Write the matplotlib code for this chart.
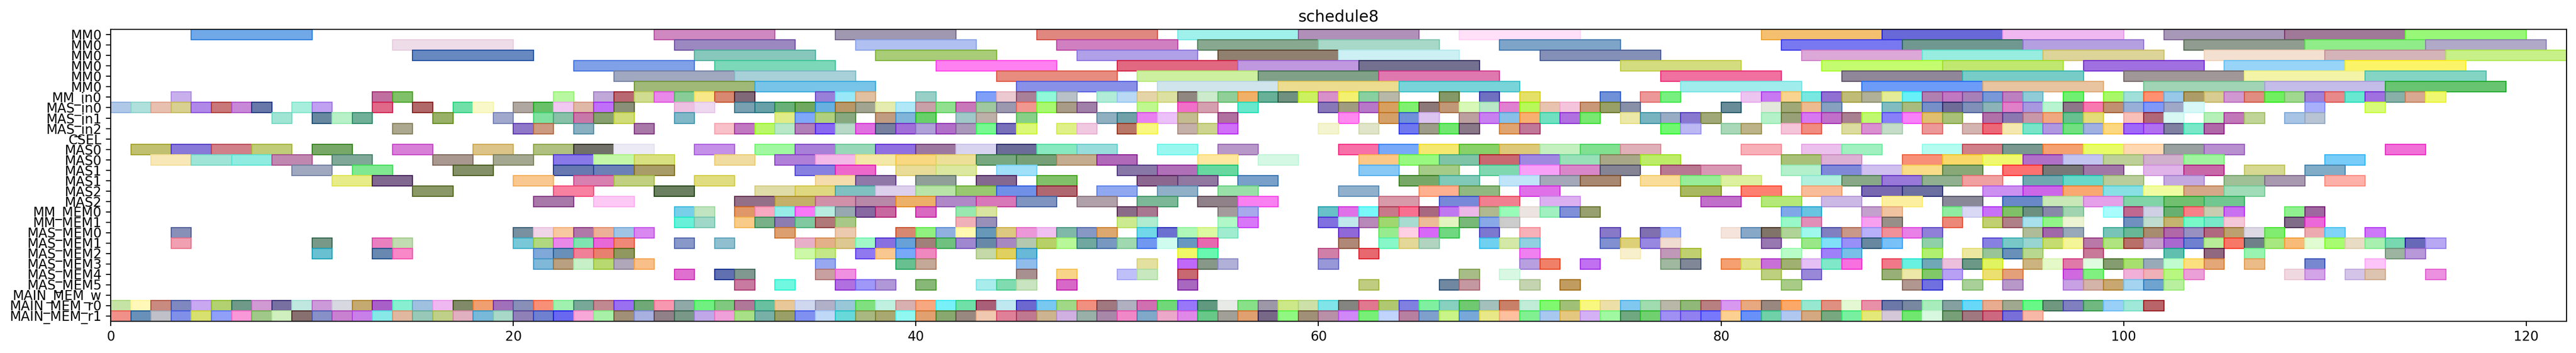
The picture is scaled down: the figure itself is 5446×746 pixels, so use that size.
import numpy as np
from matplotlib import pyplot as plt
from matplotlib.colors import to_rgb

# row labels, top to bottom
labels = ['MM0', 'MM0', 'MM0', 'MM0', 'MM0', 'MM0', 'MM_in0', 'MAS_in0', 'MAS_in1', 'MAS_in2',
          'CSEL', 'MAS0', 'MAS0', 'MAS1', 'MAS1', 'MAS2', 'MAS2', 'MM_MEM0', 'MM_MEM1',
          'MAS_MEM0', 'MAS_MEM1', 'MAS_MEM2', 'MAS_MEM3', 'MAS_MEM4', 'MAS_MEM5',
          'MAIN_MEM_w', 'MAIN_MEM_r0', 'MAIN_MEM_r1']

# task duration per row
durations = [6, 6, 6, 6, 6, 6, 1, 1, 1, 1, 1, 2, 2, 2, 2, 2, 2, 1, 1, 1, 1, 1, 1, 1, 1, 1, 1, 1]

# (start, colour) for each task
mm0_a = [(4,'#70a8e8'),(27,'#d088c0'),(36,'#a098b0'),(46,'#e08880'),(53,'#a0f0ec'),(59,'#b090b8'),
         (67,'#ffe0f8'),(82,'#f4c070'),(88,'#6868d8'),(94,'#f0b8f0'),(102,'#a898b8'),(108,'#a07898'),(114,'#98f878')]
mm0_b = [(14,'#eedce8'),(28,'#9c88c0'),(37,'#b0c0f0'),(47,'#d080c0'),(54,'#88a890'),(60,'#a8d8c8'),
         (69,'#7ea4c8'),(83,'#7878f0'),(89,'#709890'),(95,'#b4a0e0'),(103,'#909c90'),(109,'#90ec88'),(115,'#b0aac8')]
mm0_c = [(15,'#6888c0'),(29,'#88c8bc'),(38,'#a8cc78'),(48,'#b0a0e8'),(55,'#908070'),(61,'#ccf0f4'),
         (71,'#8490b8'),(84,'#dca8d8'),(90,'#98ece0'),(96,'#dcd498'),(104,'#f4e0d0'),(110,'#d4b4b8'),(116,'#c8f088')]
mm0_d = [(23,'#80a0e8'),(30,'#7cd8b8'),(41,'#ff80f0'),(50,'#e06880'),(56,'#c098e0'),(62,'#747090'),
         (75,'#d4dc80'),(85,'#c4fc70'),(91,'#c0e870'),(98,'#a070e0'),(105,'#98d4f8'),(111,'#fcf468')]
mm0_e = [(25,'#a0a8c0'),(31,'#a8d0d8'),(44,'#e88c80'),(51,'#ccf0a0'),(57,'#80a088'),(63,'#e078b0'),
         (77,'#f070a0'),(86,'#908898'),(92,'#78ccc8'),(100,'#a09898'),(106,'#f4f4a8'),(112,'#84d4c4')]
mm0_f = [(26,'#a0b878'),(32,'#78c4e8'),(45,'#8890e8'),(52,'#d0e4ec'),(58,'#ecdc90'),(64,'#78d4d8'),
         (78,'#a0ecec'),(87,'#6c9cf8'),(93,'#e8c4a0'),(101,'#a0d4b4'),(107,'#c4bce8'),(113,'#68c470')]

mm_in0 = [(3,'#c8b0ec'),(13,'#c070a0'),(14,'#80c068'),(22,'#b8f8a0'),(24,'#c0a8d8'),(25,'#b86870'),
          (26,'#d0dc90'),(27,'#e888e8'),(28,'#88cc98'),(29,'#f8e888'),(30,'#d88870'),(31,'#806878'),
          (35,'#9880d8'),(36,'#98e8f8'),(37,'#e0c0a0'),(40,'#98d0c8'),(43,'#80a0f8'),(44,'#ecc8d0'),
          (45,'#a88098'),(46,'#90f8d8'),(47,'#b8c0c8'),(49,'#b0ecd8'),(50,'#b8d8f4'),(51,'#e4d4a8'),
          (52,'#dce0a0'),(53,'#908880'),(54,'#cceacc'),(55,'#90d098'),(56,'#f0b068'),(57,'#68b098'),
          (58,'#709080'),(59,'#ccf060'),(60,'#d890c8'),(61,'#f4f070'),(62,'#88d0a0'),(63,'#b8b8a8'),
          (66,'#849868'),(68,'#7070c0'),(70,'#e4e068'),(74,'#7090d8'),(76,'#ec9898'),(77,'#78f080'),
          (81,'#ecc4f0'),(82,'#c878f0'),(83,'#f8d490'),(84,'#78e8e0'),(85,'#9070d0'),(86,'#c0bc78'),
          (87,'#b0b098'),(88,'#e4ec98'),(89,'#68f0f8'),(90,'#b080b0'),(91,'#c078c0'),(92,'#a880b8'),
          (93,'#7898d8'),(94,'#bc80c0'),(95,'#90ccd8'),(97,'#70f070'),(99,'#a8f868'),(100,'#a0e0d8'),
          (101,'#ff9070'),(102,'#98c8e8'),(103,'#ac9c68'),(104,'#d8cc90'),(105,'#d098d0'),(106,'#e08c80'),
          (107,'#70f060'),(108,'#a0d890'),(109,'#a080d8'),(110,'#e88888'),(111,'#68e8d0'),(112,'#a070e0'),
          (113,'#88b0a8'),(114,'#d8a890'),(115,'#f0f870')]

mas_in0 = [(0,'#b0c8e8'),(1,'#b0e0dc'),(2,'#e8c0b0'),(3,'#d8d090'),(4,'#b088e8'),(5,'#c87878'),
           (6,'#c888d8'),(7,'#6878a8'),(9,'#a8eedc'),(10,'#c0a0f0'),(13,'#e06888'),(15,'#b06868'),
           (17,'#70e0a8'),(18,'#f8f8c8'),(20,'#b0a8a0'),(21,'#68c068'),(22,'#f0c8f0'),(23,'#e0b8a8'),
           (24,'#c070f8'),(25,'#8a9078'),(28,'#ecc0e0'),(29,'#eed8f0'),(31,'#78a0b0'),(32,'#68a0a8'),
           (33,'#68b078'),(34,'#70a860'),(35,'#68b0e0'),(36,'#b89868'),(37,'#a0a490'),(38,'#e4ecb0'),
           (39,'#b0e8f8'),(40,'#c8a0a8'),(41,'#90e090'),(42,'#c878b8'),(43,'#a0c8a0'),(44,'#9c98b0'),
           (45,'#f09890'),(46,'#a8f870'),(47,'#a89c88'),(48,'#a080a8'),(51,'#c0f890'),(53,'#f070c8'),
           (54,'#d4a0b0'),(56,'#68e8cc'),(60,'#8878b8'),(61,'#a09c80'),(62,'#b878c8'),(63,'#d8a060'),
           (64,'#80f070'),(65,'#8c7878'),(66,'#c09878'),(67,'#d8f8b8'),(68,'#b8e8c8'),(69,'#e080d0'),
           (70,'#b8f858'),(71,'#e8c4b0'),(72,'#f4c4dc'),(73,'#c89878'),(74,'#98a068'),(75,'#8890a8'),
           (80,'#688c98'),(82,'#e4e8dc'),(83,'#a0a878'),(84,'#ecbc90'),(85,'#88a0c0'),(88,'#80bcc0'),
           (89,'#a8bc80'),(90,'#7890c8'),(91,'#706c98'),(92,'#8090b8'),(93,'#8cb4b8'),(94,'#e080c8'),
           (95,'#a898e0'),(96,'#b8f4d0'),(97,'#8c7888'),(98,'#f878b0'),(99,'#c09070'),(100,'#98b0d8'),
           (101,'#8098f8'),(102,'#a0a8c8'),(103,'#d8f8f8'),(109,'#a8b0fc'),(112,'#d8fc78')]

mas_in1 = [(8,'#a0e4d4'),(10,'#6888a0'),(11,'#b8f0c8'),(12,'#70b098'),(16,'#98b068'),(19,'#a0a8cc'),
           (21,'#80e0a0'),(22,'#88c0a8'),(23,'#c878a8'),(24,'#88a070'),(25,'#d0dc78'),(28,'#80b8c8'),
           (33,'#e0ec88'),(34,'#80a8f8'),(35,'#b0d080'),(36,'#88a880'),(38,'#c09c80'),(39,'#80b4d8'),
           (40,'#68d068'),(42,'#a0c8c8'),(43,'#bcb0a8'),(45,'#88d088'),(49,'#90b0c0'),(50,'#70a0a8'),
           (51,'#e880f0'),(52,'#ecc0f8'),(53,'#c4bc90'),(55,'#b070a0'),(61,'#ff88f0'),(63,'#d4a068'),
           (64,'#7090d8'),(65,'#dcc4f0'),(67,'#bca0a0'),(68,'#c880f0'),(69,'#88c0e8'),(70,'#f8b070'),
           (71,'#70e0c0'),(72,'#b070e0'),(73,'#78e870'),(75,'#ece8a8'),(76,'#78b4c0'),(77,'#98acc4'),
           (78,'#8878d0'),(79,'#a0a878'),(82,'#b4f0c8'),(83,'#98a078'),(84,'#d878f0'),(85,'#c070c8'),
           (86,'#a88090'),(87,'#c0f870'),(88,'#8880f8'),(89,'#f880f8'),(90,'#e0c070'),(91,'#a8c078'),
           (93,'#b070a8'),(94,'#8c78b0'),(95,'#c898a8'),(96,'#f0a880'),(97,'#68c090'),(98,'#e4dc78'),
           (100,'#f8c0b8'),(101,'#b06878'),(102,'#d8f8f4'),(104,'#b4f0b8'),(105,'#c078b8'),(106,'#c0d498'),
           (108,'#a8c4e4'),(109,'#b8c4d4')]

mas_in2 = [(14,'#aca890'),(20,'#9078c8'),(21,'#cc9a80'),(23,'#88b0c0'),(26,'#a878a8'),(30,'#f8c0c8'),
           (31,'#c078c0'),(32,'#b8f868'),(33,'#b8e8c8'),(34,'#b080b8'),(35,'#8868f0'),(36,'#b8d8c8'),
           (37,'#e070e0'),(38,'#7880a0'),(39,'#a070d8'),(40,'#b0a0d8'),(41,'#b070c8'),(42,'#aa98bb'),
           (43,'#78f890'),(44,'#7870b8'),(45,'#dcf878'),(47,'#e0f088'),(48,'#f0c8e0'),(50,'#b87868'),
           (51,'#f8f880'),(53,'#c4b0a8'),(54,'#ccd490'),(55,'#d070f8'),(60,'#f4f4d0'),(62,'#e0e4c8'),
           (64,'#7078f0'),(65,'#9c9c88'),(66,'#70e870'),(67,'#887888'),(69,'#e0a470'),(70,'#c07898'),
           (77,'#70f870'),(78,'#bcb8f4'),(80,'#a8d8b8'),(81,'#bcb488'),(83,'#f4c4d8'),(84,'#f08c80'),
           (86,'#dcdca0'),(87,'#d890d0'),(88,'#c4dcc8'),(90,'#ec9898'),(92,'#d4b4b0'),(93,'#ec6878'),
           (94,'#f4e8b0'),(95,'#78e4c8'),(96,'#b098e0'),(97,'#70e080'),(98,'#a0b0e0'),(99,'#fcd880'),
           (100,'#a068f8'),(101,'#b070f0'),(102,'#8080a0'),(103,'#78e8c8'),(104,'#b068a8')]

csel = []

mas0_a = [(1,'#c0c070'),(3,'#8878d8'),(5,'#d08088'),(7,'#c0cc78'),(10,'#78a868'),(14,'#d880d8'),
          (18,'#dcc488'),(21,'#b0c080'),(23,'#707068'),(25,'#eceaf4'),(29,'#c490e8'),(32,'#a0f8a0'),
          (34,'#a880d8'),(36,'#98d8b8'),(38,'#9070e0'),(40,'#9c78a0'),(42,'#d8d4f0'),(44,'#6c6c98'),
          (46,'#88e8c0'),(48,'#98dcdc'),(52,'#98f8f0'),(55,'#b898c8'),(61,'#f870a8'),(63,'#78a8f8'),
          (65,'#f4e870'),(67,'#88d068'),(69,'#dcc878'),(71,'#c4f0c0'),(73,'#80e090'),(75,'#e0b0b8'),
          (81,'#f8b0b8'),(84,'#ecc0ec'),(86,'#a0f0c0'),(90,'#b4fcf0'),(92,'#d08088'),(94,'#789890'),
          (96,'#f4a070'),(98,'#e8fc68'),(100,'#fed8b0'),(102,'#98a0a0'),(104,'#b890d0'),(113,'#f070d8')]
mas0_b = [(2,'#f8e8b8'),(4,'#a0e4d8'),(6,'#90ece0'),(8,'#c088b0'),(11,'#80a898'),(16,'#a89890'),
          (19,'#a4a890'),(22,'#8878e8'),(24,'#c4f8a8'),(26,'#d8e080'),(30,'#f0dca0'),(33,'#b080d8'),
          (35,'#f4b8e8'),(37,'#f4e8a8'),(39,'#f8d880'),(41,'#ece098'),(43,'#78a880'),(45,'#78a078'),
          (47,'#c4ac90'),(49,'#b068b8'),(54,'#fee8a0'),(57,'#d4f8e4'),(62,'#fcc888'),(64,'#98f880'),
          (66,'#80c4a8'),(68,'#c86870'),(70,'#a088e0'),(72,'#98e0b8'),(74,'#a8a888'),(76,'#bcec68'),
          (83,'#a8c078'),(85,'#dcb0d4'),(89,'#f89078'),(91,'#f8d868'),(93,'#f0f870'),(95,'#b070c8'),
          (97,'#c4c4f0'),(99,'#bcd098'),(101,'#d0b0cc'),(103,'#a0f4a0'),(110,'#78ccf8')]
mas1_a = [(9,'#a0a8c0'),(12,'#80e890'),(17,'#849068'),(22,'#6878b0'),(24,'#6c80b8'),(26,'#a89c68'),
          (34,'#8880e0'),(36,'#ee68cc'),(39,'#e8dc98'),(41,'#dce8a0'),(44,'#a0e0f8'),(50,'#8878a8'),
          (52,'#b070b8'),(54,'#68d8a0'),(62,'#88c8f4'),(65,'#a4cc88'),(68,'#80d8b0'),(70,'#f8a0f8'),
          (72,'#d888c8'),(74,'#848494'),(77,'#b87890'),(79,'#d898b4'),(83,'#b4f0cc'),(85,'#8088d8'),
          (87,'#d0c0f0'),(89,'#f8dc88'),(91,'#88a878'),(94,'#ff7070'),(96,'#787878'),(98,'#a078a8'),
          (101,'#e0b4e8'),(103,'#c868a8'),(106,'#d4d890'),(109,'#80acc8')]
mas1_b = [(11,'#e8ec88'),(13,'#806890'),(20,'#f8c890'),(23,'#d880b0'),(25,'#c0d080'),(29,'#e0dc80'),
          (35,'#f4dcac'),(37,'#9078a8'),(40,'#90a098'),(43,'#846890'),(46,'#80c068'),(51,'#8c6890'),
          (53,'#9078a0'),(56,'#78a0c8'),(64,'#78a868'),(66,'#80c8b8'),(69,'#c0e4f8'),(71,'#a4a8b8'),
          (73,'#a88870'),(76,'#f8dc98'),(78,'#98ec98'),(80,'#dcf0a0'),(84,'#b0f0dc'),(86,'#88a888'),
          (88,'#9878d8'),(90,'#90b090'),(92,'#f0a0a0'),(95,'#70a8b0'),(97,'#68d8c8'),(99,'#b8cc9c'),
          (102,'#c4a8e0'),(105,'#a0c098'),(107,'#a898b0'),(110,'#fcb0a8')]
mas2_a = [(15,'#8a9868'),(22,'#f880a0'),(27,'#6a8060'),(32,'#e0dca8'),(34,'#e0d880'),(36,'#80c0c0'),
          (38,'#dcd0ec'),(40,'#b8e4a8'),(42,'#98c870'),(44,'#7090e8'),(46,'#b06870'),(49,'#90a8f0'),
          (52,'#90b0c8'),(55,'#98e0a8'),(61,'#90b0cc'),(65,'#ffb090'),(67,'#90b880'),(70,'#e070e8'),
          (78,'#a8b860'),(81,'#ff8070'),(84,'#f8bc98'),(87,'#7868b0'),(89,'#6c70a0'),(93,'#cc90f0'),
          (95,'#cc68e8'),(97,'#f8a870'),(99,'#88e0e4'),(101,'#f0fca0'),(103,'#d4a888'),(105,'#a0dcb8')]
mas2_b = [(21,'#a878a8'),(24,'#fcc8f4'),(31,'#947088'),(33,'#c4b068'),(35,'#d090a8'),(37,'#b888a8'),
          (39,'#ecb068'),(41,'#b088c8'),(43,'#d878b8'),(45,'#8094c0'),(48,'#b0a0a8'),(51,'#7cb898'),
          (54,'#908088'),(56,'#f880f0'),(63,'#d89aa8'),(66,'#7888d8'),(68,'#f08090'),(71,'#dcb0f0'),
          (79,'#c070c8'),(82,'#b4e878'),(85,'#ccb8e4'),(88,'#fcf0a0'),(91,'#888898'),(94,'#6888c8'),
          (96,'#c8e8b8'),(98,'#e4a0e8'),(100,'#80d4a8'),(102,'#70c070'),(104,'#70c890')]

mm_mem0 = [(28,'#78d0e8'),(29,'#c0e4c0'),(31,'#e09868'),(32,'#f8a8c0'),(33,'#98ece8'),(34,'#f878f8'),
           (35,'#b8ece0'),(36,'#98a8b0'),(37,'#8868a0'),(38,'#c868a0'),(40,'#d868c0'),(42,'#98e8b0'),
           (43,'#d8e4a0'),(50,'#8a6c88'),(51,'#a87890'),(55,'#a49c9c'),(56,'#a8a8ec'),(60,'#68c0c8'),
           (61,'#e070e8'),(62,'#78f8f8'),(63,'#c87888'),(64,'#f87090'),(65,'#a86880'),(66,'#c078f0'),
           (67,'#ecb8e8'),(68,'#b0b890'),(69,'#98fcb8'),(70,'#ece4e0'),(71,'#a0f0c0'),(72,'#8090d8'),
           (73,'#98a070'),(83,'#80a8e8'),(84,'#68c4e0'),(87,'#c4a0cc'),(88,'#f0c4a0'),(91,'#90eca0'),
           (92,'#d8d8f4'),(93,'#c870f8'),(94,'#80c068'),(95,'#6c9080'),(96,'#8888a8'),(97,'#a0d4b0'),
           (99,'#a8fcfc'),(100,'#c06890'),(101,'#d0d0e4'),(102,'#68b070'),(103,'#f88088'),(104,'#c8ccb0'),
           (105,'#c870f0'),(108,'#90f090'),(109,'#a068a0')]
mm_mem1 = [(28,'#68f0d8'),(29,'#a0d8c8'),(31,'#f8cc88'),(32,'#78b088'),(33,'#8c7cb0'),(34,'#80c8a0'),
           (35,'#b07878'),(36,'#a8c888'),(42,'#f0b0b8'),(43,'#9890b8'),(50,'#cceb90'),(51,'#b0ecd0'),
           (55,'#b0f8c8'),(56,'#d878f8'),(60,'#8070e0'),(61,'#c0e8ec'),(62,'#b888b8'),(63,'#a0d870'),
           (64,'#a8dcd0'),(65,'#ecbc98'),(66,'#e4f4c0'),(67,'#78b878'),(68,'#88a8e8'),(69,'#cccccc'),
           (83,'#98f8c8'),(84,'#e090b8'),(87,'#f8a0f0'),(88,'#989088'),(91,'#ec8878'),(93,'#c0d070'),
           (94,'#b08088'),(95,'#a8e0ec'),(96,'#90f488'),(97,'#ecf4d4'),(100,'#7090c0'),(101,'#c0dcd0'),
           (102,'#c4b470'),(103,'#78f8c8'),(104,'#78e8c8'),(105,'#f4c8d8'),(108,'#806c88'),(109,'#ec68d8')]

mas_mem0 = [(3,'#8890b8'),(20,'#7890a0'),(21,'#f0d4e8'),(22,'#f8c8a0'),(23,'#b078a8'),(24,'#ecb098'),
            (25,'#a0c4e4'),(26,'#d888f0'),(33,'#dca070'),(36,'#eccab0'),(39,'#d88870'),(40,'#90f080'),
            (41,'#90b0e0'),(42,'#fff8b0'),(43,'#6898b8'),(44,'#dcc880'),(45,'#ec98d8'),(46,'#f0c0f0'),
            (47,'#80b8a8'),(48,'#8898c4'),(49,'#dca870'),(51,'#70d8e8'),(52,'#6c70d0'),(53,'#b0f8b8'),
            (54,'#dcf8a0'),(55,'#a0ecd0'),(61,'#9068d8'),(63,'#98ec90'),(64,'#ffd0e4'),(65,'#d868f8'),
            (66,'#70d880'),(68,'#7c78d0'),(70,'#f8b0b8'),(74,'#8878c8'),(76,'#8070b0'),(77,'#a0b0f8'),
            (80,'#f4e4dc'),(81,'#88a8c8'),(82,'#807468'),(83,'#b0d498'),(84,'#a0f8ec'),(85,'#8080c0'),
            (86,'#c89888'),(87,'#b8b0f8'),(88,'#f09098'),(89,'#e880e8'),(90,'#9080d8'),(95,'#b0bc98'),
            (96,'#a068a8'),(97,'#98a8b8'),(99,'#78c4b8'),(100,'#68b898'),(101,'#a88c70'),(102,'#b068a8'),
            (103,'#9890c0'),(104,'#b06880'),(105,'#bca070'),(106,'#dcd8e4'),(107,'#80ec70'),(109,'#ecaab0'),
            (110,'#80d4f8'),(112,'#cc78f8')]
mas_mem1 = [(3,'#f0a0b0'),(10,'#789888'),(13,'#e880c0'),(14,'#c0dcb0'),(20,'#78c8d8'),(21,'#b0d880'),
            (22,'#e888e8'),(23,'#80e4b0'),(24,'#e868d8'),(25,'#f08878'),(28,'#8898c8'),(30,'#90c0d0'),
            (34,'#e8b0c8'),(35,'#e4b088'),(36,'#dcc890'),(37,'#a0f8c8'),(38,'#8870e0'),(39,'#68a0d8'),
            (40,'#a08078'),(41,'#70c080'),(42,'#a088d0'),(43,'#6888a8'),(44,'#a888c0'),(45,'#b4c8b0'),
            (46,'#b8d068'),(47,'#b8f898'),(48,'#70a8a0'),(49,'#7898c0'),(50,'#a0d8b0'),(51,'#7098f0'),
            (52,'#d0fcf0'),(53,'#6898c0'),(54,'#e868b0'),(61,'#b08878'),(63,'#88f8c8'),(64,'#e4d898'),
            (65,'#b0d4c0'),(68,'#70d0f0'),(69,'#d4e8a8'),(70,'#90d0e0'),(74,'#8090d0'),(75,'#dcd078'),
            (76,'#9888e0'),(77,'#f0dcd0'),(82,'#9878b0'),(84,'#98e888'),(85,'#80e0f8'),(86,'#9890f8'),
            (87,'#6888a0'),(88,'#78c0f8'),(90,'#90d0a8'),(93,'#8880e0'),(94,'#78c8c8'),(95,'#98d4d0'),
            (96,'#c4dc70'),(97,'#f4f498'),(98,'#b878a8'),(99,'#b0e480'),(100,'#b87068'),(101,'#c4a0c8'),
            (102,'#a868d0'),(103,'#7080d0'),(104,'#b8ec98'),(105,'#f87868'),(106,'#708088'),(107,'#a8e880'),
            (108,'#f8bc78'),(109,'#e0fcd0'),(110,'#a8fc70'),(111,'#e8dcc4'),(112,'#a8f0b0'),(113,'#78d8b0'),
            (114,'#6868b8'),(115,'#b8a8f4')]
mas_mem2 = [(10,'#68c0d0'),(13,'#6888b0'),(14,'#f888c8'),(21,'#80a8d8'),(22,'#6890b8'),(23,'#f08098'),
            (24,'#e88070'),(25,'#909860'),(34,'#ccf8a8'),(35,'#c4e888'),(37,'#9078f0'),(38,'#f8c890'),
            (39,'#78a8f8'),(40,'#f088c0'),(43,'#c4d8a8'),(44,'#e0d060'),(45,'#68b8d8'),(53,'#f0f868'),
            (54,'#68f8b0'),(60,'#d080a8'),(62,'#e86870'),(70,'#f080f0'),(75,'#f8f0cc'),(77,'#c098b8'),
            (78,'#c0d070'),(83,'#b8fcc8'),(85,'#a080f8'),(86,'#78c0e8'),(90,'#b0f070'),(92,'#ece8a0'),
            (93,'#98c498'),(94,'#6890b8'),(95,'#b8d890'),(98,'#c87898'),(102,'#60c0b0'),(104,'#906880'),
            (106,'#98f4b0'),(113,'#9cb4a0'),(114,'#b898d8')]
mas_mem3 = [(21,'#80b8d8'),(22,'#b8a080'),(23,'#c8f0c8'),(24,'#b8d870'),(25,'#b0a8b8'),(26,'#f8c088'),
            (35,'#98a8f0'),(39,'#68c090'),(40,'#c4a898'),(45,'#90bcec'),(51,'#e4e0a0'),(53,'#c068f8'),
            (54,'#889888'),(55,'#b0b0d8'),(60,'#9898d8'),(70,'#b8a0e0'),(71,'#f08068'),(73,'#c070f0'),
            (77,'#a0b8a0'),(78,'#808898'),(80,'#f4a070'),(81,'#e0e488'),(82,'#c870d8'),(83,'#a0b070'),
            (84,'#e4c0f4'),(85,'#80e8c8'),(86,'#f870e0'),(88,'#f07888'),(89,'#68f0e0'),(90,'#70a8b8'),
            (91,'#ecc0dc'),(92,'#6c9888'),(93,'#e0f460'),(95,'#ccb480'),(96,'#e4f8c8'),(97,'#e078a8'),
            (98,'#e0fce0'),(99,'#849c70'),(100,'#a8e070'),(101,'#98aab8'),(102,'#c0fcd0'),(103,'#fce080'),
            (104,'#e4a878'),(106,'#ecbc88'),(109,'#7888d0'),(112,'#fcc4f8')]
mas_mem4 = [(28,'#e070d0'),(30,'#6070b0'),(31,'#809890'),(35,'#c8a0a0'),(36,'#f090e0'),(45,'#a89090'),
            (47,'#f8d488'),(50,'#c0c0f8'),(51,'#c8e8c0'),(53,'#c86870'),(67,'#a8bc88'),(69,'#d8f8e4'),
            (82,'#bcd080'),(84,'#9888d8'),(88,'#98b078'),(89,'#ece8a8'),(90,'#80c868'),(91,'#b8a0f4'),
            (93,'#ece070'),(94,'#e4a078'),(97,'#d068e0'),(98,'#80f080'),(100,'#f0b0d8'),(101,'#f0b0b8'),
            (102,'#b8f880'),(103,'#eca0d8'),(108,'#f0d8e0'),(109,'#d4a4e8'),(111,'#d4c4e8'),(112,'#dcc4b0'),
            (115,'#ec90e0')]
mas_mem5 = [(31,'#c87aa0'),(33,'#70f8e0'),(36,'#b070e0'),(37,'#a098f8'),(38,'#b098d8'),(40,'#88b878'),
            (43,'#a8ecec'),(44,'#80dcb0'),(45,'#c8e4c0'),(47,'#d868c8'),(53,'#a868c0'),(62,'#c0cc80'),
            (66,'#7088a0'),(67,'#c498a0'),(70,'#c4d4b0'),(72,'#c09c60'),(83,'#a8cc88'),(89,'#b09890'),
            (90,'#7070e0'),(92,'#a8d098'),(94,'#b898c8'),(97,'#c8a0e4'),(98,'#d4b4a8'),(99,'#c8a870'),
            (100,'#a4d4f0'),(101,'#70a4d0'),(102,'#b8f0a0')]

main_mem_w = []

main_mem_r0 = [(0,'#c5e3a5'),(1,'#fff8b8'),(2,'#c98a80'),(3,'#7f88bf'),(4,'#c8a8f0'),(5,'#b2d170'),
               (6,'#6f9a8a'),(7,'#d09ad2'),(8,'#7870a0'),(9,'#c0e8e0'),(10,'#cc9ad8'),(11,'#d8d8e0'),
               (12,'#c4aa70'),(13,'#a860c8'),(14,'#88f0d0'),(15,'#a0c0e0'),(16,'#f0b8f0'),(17,'#808a68'),
               (18,'#f0a070'),(19,'#a070b8'),(20,'#8890b8'),(21,'#f89078'),(22,'#a0f0b0'),(23,'#78a898'),
               (24,'#c08890'),(25,'#9870f0'),(26,'#70a878'),(27,'#f898b0'),(28,'#90a8a8'),(29,'#70f080'),
               (30,'#80c880'),(31,'#b07898'),(32,'#68c0a0'),(33,'#e8c898'),(34,'#d0d8f0'),(35,'#b0b0c8'),
               (36,'#98c8d8'),(37,'#80e080'),(38,'#c0f0e0'),(39,'#d8b0b0'),(40,'#f8a880'),(41,'#78f0f8'),
               (42,'#70e0a8'),(43,'#a86078'),(44,'#c0e8f0'),(45,'#6c68d0'),(46,'#78c8f0'),(47,'#a0d888'),
               (48,'#f09080'),(49,'#a07880'),(50,'#b0b0c0'),(51,'#d070b0'),(52,'#70d878'),(53,'#9878f8'),
               (54,'#609880'),(55,'#e8eae8'),(56,'#88e088'),(57,'#9c98a8'),(58,'#cce888'),(59,'#cce0a8'),
               (60,'#80e4e8'),(61,'#848480'),(62,'#e07890'),(63,'#b0c870'),(64,'#8080e0'),(65,'#80f0a0'),
               (66,'#88d0c0'),(67,'#70c870'),(68,'#a4c0bc'),(69,'#c88068'),(70,'#c0ecd8'),(71,'#80f870'),
               (72,'#a0c078'),(73,'#f8f880'),(74,'#ece0a8'),(75,'#80c8f0'),(76,'#a0dcb0'),(77,'#b8b8a8'),
               (78,'#90b878'),(79,'#b88080'),(80,'#d898f0'),(81,'#e8a880'),(82,'#988880'),(83,'#fca868'),
               (84,'#98e8d0'),(85,'#e09080'),(86,'#e4f8d4'),(87,'#e890a8'),(88,'#6c78a8'),(89,'#7888a0'),
               (90,'#a8ecbc'),(91,'#84a0a0'),(92,'#68d8f8'),(93,'#e8ac90'),(94,'#a0a890'),(95,'#68f888'),
               (96,'#709880'),(97,'#8080c0'),(98,'#70b880'),(99,'#98d0f8'),(100,'#a0e8d8'),(101,'#b86468')]
main_mem_r1 = [(0,'#f09088'),(1,'#6890b8'),(2,'#c0c0c8'),(3,'#8090e8'),(4,'#d8e070'),(5,'#90a0f8'),
               (6,'#f898d8'),(7,'#a0c888'),(8,'#d0f0c0'),(9,'#887070'),(10,'#8890c8'),(11,'#c880d0'),
               (12,'#c880e8'),(13,'#88e8e8'),(14,'#e0b8a0'),(15,'#98c8b8'),(16,'#c0d088'),(17,'#e0b0c0'),
               (18,'#78b8d8'),(19,'#a8d8c8'),(20,'#9080b8'),(21,'#7080d0'),(22,'#6868f0'),(23,'#f8a8d8'),
               (24,'#a8f0a8'),(25,'#a09078'),(26,'#a8b0e0'),(27,'#908088'),(28,'#7a9888'),(29,'#c0a8e8'),
               (30,'#f0a0d8'),(31,'#a8e088'),(32,'#78b0a8'),(33,'#98a068'),(34,'#8090f0'),(35,'#c0d8f8'),
               (36,'#68d8d8'),(37,'#a8b880'),(38,'#a8a870'),(39,'#90f8f0'),(40,'#e0a070'),(41,'#88a870'),
               (42,'#988880'),(43,'#f0c8b0'),(44,'#e08098'),(45,'#c07890'),(46,'#ccb490'),(47,'#d0b0e0'),
               (48,'#98b0a8'),(49,'#a888a8'),(50,'#f088c8'),(51,'#80a8c8'),(52,'#eca8c8'),(53,'#e088e8'),
               (54,'#68c888'),(55,'#a0a098'),(56,'#e0a070'),(57,'#786888'),(58,'#90f880'),(59,'#a09078'),
               (60,'#b890a8'),(61,'#d088f8'),(62,'#78f078'),(63,'#c0d4fc'),(64,'#b880a0'),(65,'#80a0cc'),
               (66,'#c8f488'),(67,'#78a8d8'),(68,'#e8e888'),(69,'#ffc0a0'),(70,'#80f090'),(71,'#a8c8f0'),
               (72,'#e4c880'),(73,'#d4b0f4'),(74,'#a0f8a0'),(75,'#70a880'),(76,'#70d070'),(77,'#a090f4'),
               (78,'#9080f0'),(79,'#7878fc'),(80,'#fcd090'),(81,'#6890f8'),(82,'#70d0a8'),(83,'#b0c8f0'),
               (84,'#d4a880'),(85,'#78a880'),(86,'#78f0a0'),(87,'#e4e878'),(88,'#d4c8d8'),(89,'#70e870'),
               (90,'#d8f8e0'),(91,'#78a078'),(92,'#a07880'),(93,'#cc6880'),(94,'#7870d8'),(95,'#f8b8a8')]

rows = [mm0_a, mm0_b, mm0_c, mm0_d, mm0_e, mm0_f, mm_in0, mas_in0, mas_in1, mas_in2, csel,
        mas0_a, mas0_b, mas1_a, mas1_b, mas2_a, mas2_b, mm_mem0, mm_mem1,
        mas_mem0, mas_mem1, mas_mem2, mas_mem3, mas_mem4, mas_mem5,
        main_mem_w, main_mem_r0, main_mem_r1]


def edge_of(c):
    # outline drawn a bit stronger than the fill
    rgb = np.array(to_rgb(c))
    return tuple(np.clip(1 - 1.5 * (1 - rgb), 0, 1))


fig, ax = plt.subplots(figsize=(27.23, 3.73), dpi=200)
for i, tasks in enumerate(rows):
    if not tasks:
        continue
    starts = [t[0] for t in tasks]
    cols = [t[1] for t in tasks]
    ax.barh(i, durations[i], left=starts, height=1.0, color=cols,
            edgecolor=[edge_of(c) for c in cols], linewidth=0.8)

ax.set_yticks(range(len(labels)))
ax.set_yticklabels(labels)
ax.set_ylim(len(labels) - 0.5, -0.5)
ax.set_xlim(0, 122)
ax.set_title('schedule8')
plt.subplots_adjust(left=0.0430, right=0.9963, top=0.9165, bottom=0.0898)
plt.savefig('out.png')
